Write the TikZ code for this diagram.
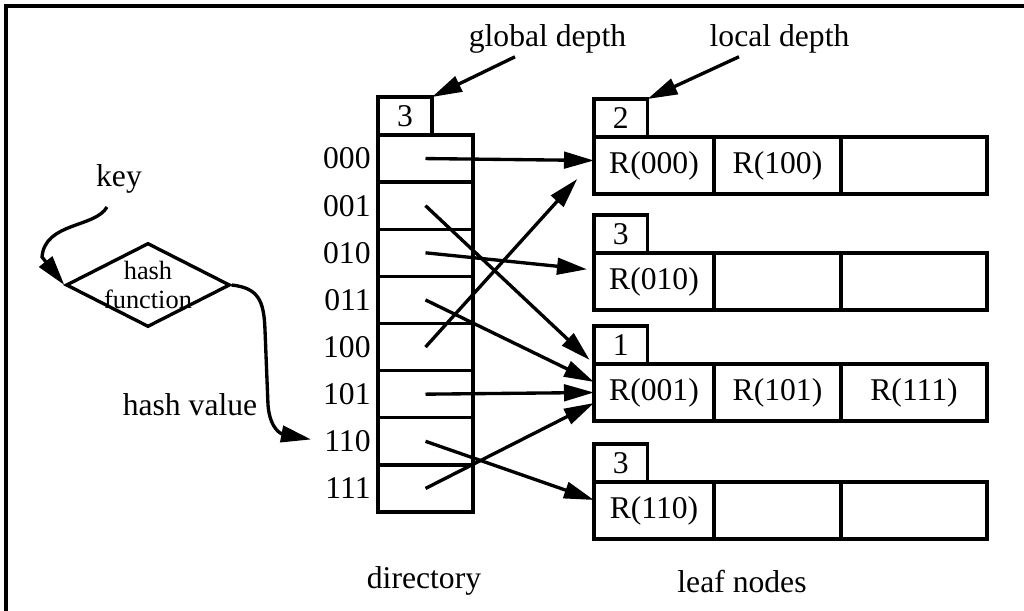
\documentclass[tikz,border=0pt]{standalone}
\usepackage{fontspec}
\setmainfont{Liberation Serif}
\usetikzlibrary{positioning,shapes.geometric,arrows.meta}

\begin{document}
\begin{tikzpicture}[
>={Triangle[length=0.6cm,width=0.33cm]},
font=\fontsize{18}{20}\selectfont,
line width=1.9pt,
dircell/.style={
rectangle,
draw=black,
inner sep=0pt,
outer sep=0pt,
minimum width=1.9cm,
minimum height=0.9425cm
},
leafcell/.style={
rectangle,
draw=black,
inner sep=0pt,
outer sep=0pt,
minimum height=1.14cm
},
depthbox/.style={
rectangle,
draw=black,
inner sep=0pt,
outer sep=0pt,
minimum width=1.07cm,
minimum height=0.76cm
},
hashfn/.style={
diamond,
draw=black,
inner sep=0pt,
minimum width=3.28cm,
minimum height=1.68cm
},
rowlabel/.style={
inner sep=1pt
},
caption/.style={
inner sep=1pt
},
arrow/.style={
->,
line width=1.9pt,
draw=black
}
]

\useasboundingbox (0,0) rectangle (20.48,-12.22);

% frame (top and left edges only)
\draw (0.12,-12.22) -- (0.12,-0.12) -- (20.48,-0.12);

% directory
\node[dircell, anchor=north west] (d0) at (7.56,-2.70) {};
\node[dircell, below=0pt of d0] (d1) {};
\node[dircell, below=0pt of d1] (d2) {};
\node[dircell, below=0pt of d2] (d3) {};
\node[dircell, below=0pt of d3] (d4) {};
\node[dircell, below=0pt of d4] (d5) {};
\node[dircell, below=0pt of d5] (d6) {};
\node[dircell, below=0pt of d6] (d7) {};
\node[depthbox, minimum width=1.08cm, anchor=south west] (gd) at (d0.north west) {3};

\node[rowlabel, left=0.08cm of d0] (r0) {000};
\node[rowlabel, left=0.08cm of d1] (r1) {001};
\node[rowlabel, left=0.08cm of d2] (r2) {010};
\node[rowlabel, left=0.08cm of d3] (r3) {011};
\node[rowlabel, left=0.08cm of d4] (r4) {100};
\node[rowlabel, left=0.08cm of d5] (r5) {101};
\node[rowlabel, left=0.08cm of d6] (r6) {110};
\node[rowlabel, left=0.08cm of d7] (r7) {111};

% leaf nodes
\node[leafcell, minimum width=2.4cm, anchor=north west] (l1a) at (11.88,-2.74) {R(000)};
\node[leafcell, minimum width=2.54cm, right=0pt of l1a] (l1b) {R(100)};
\node[leafcell, minimum width=2.92cm, right=0pt of l1b] (l1c) {};
\node[depthbox, anchor=south west] (ld1) at (l1a.north west) {2};

\node[leafcell, minimum width=2.4cm, anchor=north west] (l2a) at (11.88,-5.06) {R(010)};
\node[leafcell, minimum width=2.54cm, right=0pt of l2a] (l2b) {};
\node[leafcell, minimum width=2.92cm, right=0pt of l2b] (l2c) {};
\node[depthbox, anchor=south west] (ld2) at (l2a.north west) {3};

\node[leafcell, minimum width=2.4cm, anchor=north west] (l3a) at (11.88,-7.28) {R(001)};
\node[leafcell, minimum width=2.54cm, right=0pt of l3a] (l3b) {R(101)};
\node[leafcell, minimum width=2.92cm, right=0pt of l3b] (l3c) {R(111)};
\node[depthbox, anchor=south west] (ld3) at (l3a.north west) {1};

\node[leafcell, minimum width=2.4cm, anchor=north west] (l4a) at (11.88,-9.64) {R(110)};
\node[leafcell, minimum width=2.54cm, right=0pt of l4a] (l4b) {};
\node[leafcell, minimum width=2.92cm, right=0pt of l4b] (l4c) {};
\node[depthbox, anchor=south west] (ld4) at (l4a.north west) {3};

% hash function and labels
\node[hashfn] (hf) at (2.96,-5.70) {};
\node[align=center, inner sep=0pt, font=\fontsize{15}{16}\selectfont] (hftext) at (hf.center) {hash\\function};

\node[caption] (key) at (2.38,-3.58) {key};
\node[caption] (hashval) at (3.80,-8.10) {hash value};
\node[caption] (gdlbl) at (10.95,-0.78) {global depth};
\node[caption] (ldlbl) at (15.59,-0.78) {local depth};
\node[caption] (dirlbl) at (8.48,-11.62) {directory};
\node[caption] (leaflbl) at (14.84,-11.64) {leaf nodes};

\coordinate (keytail) at (2.14,-4.14);

% depth pointers
\draw[arrow] ([xshift=-0.65cm]gdlbl.south) -- (gd.north east);
\draw[arrow] ([xshift=-0.81cm]ldlbl.south) -- (ld1.north east);

% key -> hash function -> directory entry
\draw[arrow] (keytail) .. controls (1.90,-4.56) and (0.90,-4.44) .. (0.84,-5.14) -- (hf.west);
\draw[arrow, shorten >=0.2cm] (hf.east) .. controls (5.16,-5.76) and (5.28,-6.00) .. (5.30,-6.60)
  -- (5.36,-8.10) .. controls (5.40,-8.60) and (5.64,-8.68) .. (r6.west);

% directory pointers
\draw[arrow] (d0.center) -- ([yshift=0.1cm]l1a.west);
\draw[arrow, shorten >=0.12cm] (d1.center) -- (l3a.north west);
\draw[arrow, shorten >=0.14cm] (d2.center) -- ([yshift=0.23cm]l2a.west);
\draw[arrow] (d3.center) -- ([yshift=0.21cm]l3a.west);
\draw[arrow, shorten >=0.5cm] (d4.center) -- ([yshift=0.1cm]l1a.west);
\draw[arrow] (d5.center) -- (l3a.west);
\draw[arrow] (d6.center) -- ([yshift=0.21cm]l4a.west);
\draw[arrow] (d7.center) -- ([yshift=-0.21cm]l3a.west);

\end{tikzpicture}
\end{document}
